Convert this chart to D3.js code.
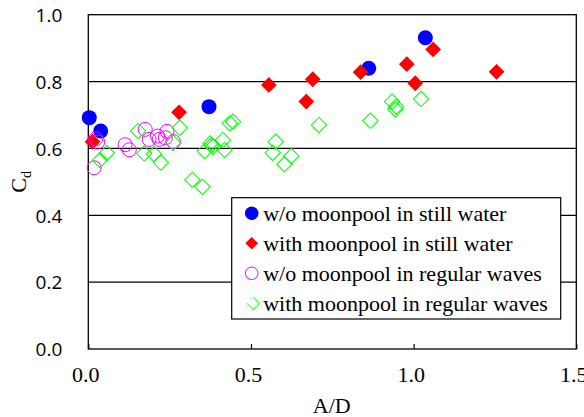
<!DOCTYPE html>
<html>
<head>
<meta charset="utf-8">
<script src="https://cdn.jsdelivr.net/npm/d3@7"></script>
<style>
  body { margin: 0; background: #fff; }
  svg { display: block; }
</style>
</head>
<body>
<div id="chart"></div>
<script>
let width = 584;
let height = 417;
let margin = ({top: 14.7, right: 7, bottom: 68, left: 88.3});
let serif = "Liberation Serif";
let sans = "Open Sans";

// Data: [A/D, Cd]
let stillNoPool = [
    [0.003, 0.692], [0.038, 0.652], [0.371, 0.725], [0.862, 0.840], [1.036, 0.931]
];
let stillPool = [
    [0.013, 0.620], [0.279, 0.708], [0.555, 0.790], [0.670, 0.740], [0.690, 0.807],
    [0.837, 0.828], [0.979, 0.852], [1.005, 0.795], [1.060, 0.896], [1.255, 0.829]
];
let wavesNoPool = [
    [0.023, 0.629], [0.029, 0.619], [0.018, 0.542], [0.113, 0.611], [0.126, 0.596],
    [0.175, 0.657], [0.187, 0.627], [0.213, 0.637], [0.218, 0.627], [0.242, 0.651],
    [0.237, 0.632], [0.262, 0.620]
];
let wavesPool = [
    [0.036, 0.565], [0.057, 0.586], [0.153, 0.652], [0.172, 0.585], [0.202, 0.583],
    [0.223, 0.558], [0.261, 0.617], [0.281, 0.662], [0.320, 0.506], [0.351, 0.485],
    [0.358, 0.592], [0.375, 0.615], [0.383, 0.605], [0.379, 0.610], [0.414, 0.625],
    [0.419, 0.595], [0.435, 0.675], [0.445, 0.680], [0.567, 0.587], [0.576, 0.620],
    [0.603, 0.553], [0.624, 0.577], [0.709, 0.670], [0.867, 0.683], [0.934, 0.740],
    [0.946, 0.725], [0.944, 0.717], [1.023, 0.748]
];

let xTicks = [0, 0.5, 1.0, 1.5];
let yTicks = [0, 0.2, 0.4, 0.6, 0.8, 1.0];
let gridValues = [0.2, 0.4, 0.6, 0.8];

let legendLabels = [
    "w/o moonpool in still water",
    "with moonpool in still water",
    "w/o moonpool in regular waves",
    "with moonpool in regular waves"
];

let svg = d3.select("#chart")
    .append("svg")
    .attr("width", width)
    .attr("height", height);

let xScale = d3.scaleLinear()
    .domain([0, 1.5])
    .range([margin.left, width - margin.right - 0.7]);

let yScale = d3.scaleLinear()
    .domain([0, 1.0])
    .range([height - margin.bottom, margin.top]);

// horizontal grid lines
svg.append("g")
    .selectAll("line")
    .data(gridValues)
    .join("line")
    .attr("x1", xScale(0))
    .attr("x2", xScale(1.5))
    .attr("y1", d => yScale(d))
    .attr("y2", d => yScale(d))
    .attr("stroke", "#000")
    .attr("stroke-width", 1.2);

// x axis: small inward ticks, serif labels
let xAxis = svg.append("g")
    .attr("transform", "translate(0," + yScale(0) + ")")
    .call(d3.axisBottom(xScale)
        .tickValues(xTicks)
        .tickSizeInner(-5)
        .tickSizeOuter(0)
        .tickFormat(d3.format(".1f")));
xAxis.attr("font-family", serif).attr("font-size", 22);
xAxis.select(".domain").remove();
xAxis.selectAll("line").attr("stroke", "#000").attr("stroke-width", 1.2);
xAxis.selectAll("text")
    .attr("y", 33)
    .attr("dy", 0)
    .attr("dx", -3)
    .attr("fill", "#000");

// y axis: sans labels, no tick marks
let yAxis = svg.append("g")
    .attr("transform", "translate(" + xScale(0) + ",0)")
    .call(d3.axisLeft(yScale)
        .tickValues(yTicks)
        .tickSize(0)
        .tickPadding(26)
        .tickFormat(d3.format(".1f")));
yAxis.attr("font-family", sans).attr("font-size", 19);
yAxis.select(".domain").remove();
yAxis.selectAll("text")
    .attr("fill", "#000")
    .attr("dy", "0.36em");

// plot frame
svg.append("rect")
    .attr("x", xScale(0))
    .attr("y", yScale(1))
    .attr("width", xScale(1.5) - xScale(0))
    .attr("height", yScale(0) - yScale(1))
    .attr("fill", "none")
    .attr("stroke", "#000")
    .attr("stroke-width", 1.3);

let diamond = d3.symbol().type(d3.symbolSquare);

// series
svg.append("g")
    .selectAll("circle")
    .data(stillNoPool)
    .join("circle")
    .attr("cx", d => xScale(d[0]))
    .attr("cy", d => yScale(d[1]))
    .attr("r", 7.5)
    .attr("fill", "#0000ff");

svg.append("g")
    .selectAll("path")
    .data(stillPool)
    .join("path")
    .attr("d", diamond.size(125))
    .attr("transform", d => "translate(" + xScale(d[0]) + "," + yScale(d[1]) + ") rotate(45)")
    .attr("fill", "#ff0000");

svg.append("g")
    .selectAll("circle")
    .data(wavesNoPool)
    .join("circle")
    .attr("cx", d => xScale(d[0]))
    .attr("cy", d => yScale(d[1]))
    .attr("r", 7)
    .attr("fill", "none")
    .attr("stroke", "#ff00ff")
    .attr("stroke-width", 1);

svg.append("g")
    .selectAll("path")
    .data(wavesPool)
    .join("path")
    .attr("d", diamond.size(118))
    .attr("transform", d => "translate(" + xScale(d[0]) + "," + yScale(d[1]) + ") rotate(45)")
    .attr("fill", "none")
    .attr("stroke", "#00ff00")
    .attr("stroke-width", 1);

// axis titles
svg.append("text")
    .attr("x", (xScale(0) + xScale(1.5)) / 2 - 0.5)
    .attr("y", 413)
    .attr("text-anchor", "middle")
    .attr("font-family", serif)
    .attr("font-size", 22)
    .text("A/D");

let yTitle = svg.append("text")
    .attr("transform", "translate(25.5," + ((yScale(0) + yScale(1)) / 2) + ") rotate(-90)")
    .attr("text-anchor", "middle")
    .attr("font-family", serif)
    .attr("font-size", 22);
yTitle.append("tspan").text("C");
yTitle.append("tspan")
    .attr("dy", 5)
    .attr("font-size", 14)
    .text("d");

// legend
let legend = svg.append("g")
    .attr("transform", "translate(231.7,197.7)");

legend.append("rect")
    .attr("width", 329)
    .attr("height", 121.3)
    .attr("fill", "#fff")
    .attr("stroke", "#000")
    .attr("stroke-width", 1.2);

let rowY = d3.scalePoint()
    .domain(legendLabels)
    .range([15.6, 105.6]);

let rows = legend.selectAll("g.row")
    .data(legendLabels)
    .join("g")
    .attr("class", "row")
    .attr("transform", d => "translate(0," + rowY(d) + ")");

rows.append("text")
    .attr("x", 31.5)
    .attr("dy", "0.33em")
    .attr("font-family", serif)
    .attr("font-size", 22)
    .text(d => d);

let mx = 20;
legend.append("circle")
    .attr("cx", mx)
    .attr("cy", rowY(legendLabels[0]))
    .attr("r", 6.8)
    .attr("fill", "#0000ff");
legend.append("path")
    .attr("d", diamond.size(80))
    .attr("transform", "translate(" + mx + "," + rowY(legendLabels[1]) + ") rotate(45)")
    .attr("fill", "#ff0000");
legend.append("circle")
    .attr("cx", mx)
    .attr("cy", rowY(legendLabels[2]))
    .attr("r", 6.3)
    .attr("fill", "none")
    .attr("stroke", "#ff00ff")
    .attr("stroke-width", 1);
// the green legend marker is drawn without its upper-left edge
let gy = rowY(legendLabels[3]);
let gh = 6.3;
legend.append("path")
    .attr("d", d3.line()([[mx + 1.5, gy - gh], [mx + 1.5 + gh, gy], [mx + 1.5, gy + gh], [mx + 1.5 - gh, gy]]))
    .attr("fill", "none")
    .attr("stroke", "#00ff00")
    .attr("stroke-width", 1);
</script>
</body>
</html>
